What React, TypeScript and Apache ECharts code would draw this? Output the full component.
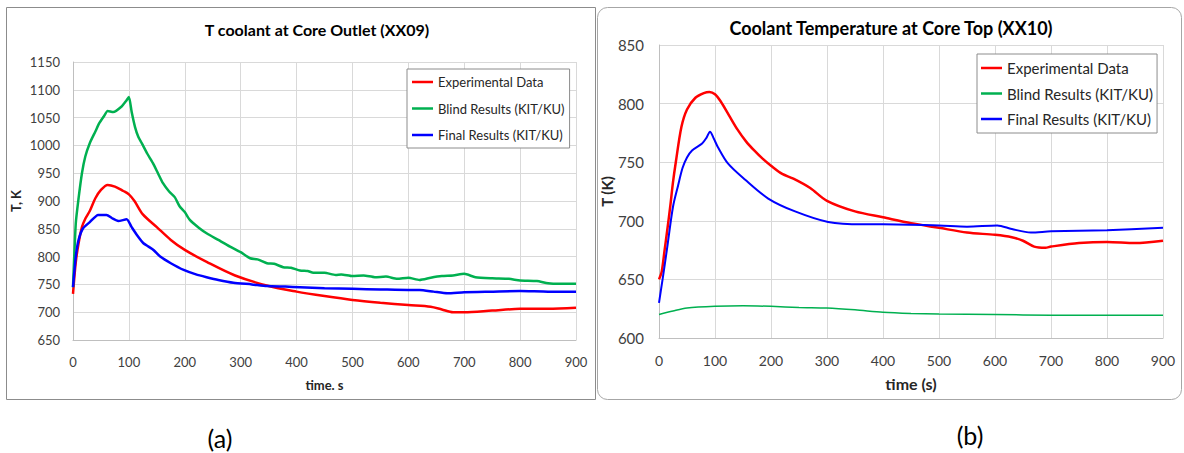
import React, { useEffect, useRef } from "react";
import * as echarts from "echarts";

// ---------- Panel (a): T coolant at Core Outlet (XX09) ----------
const expTimeA = [0, 5, 10, 16, 22, 30, 40, 50, 62, 75, 90, 100, 110, 125, 150, 175, 200, 240, 290, 350, 400, 450, 500, 550, 600, 640, 660, 680, 700, 750, 800, 850, 900];
const expTempA = [733, 790, 824, 853, 868, 882, 905, 920, 929, 926, 918, 912, 900, 876, 853, 830, 812, 790, 766, 747, 737, 729, 722, 717, 713, 710, 705, 700, 700, 703, 706, 706, 708];

const blindTimeA = [0, 5, 10, 16, 22, 30, 40, 47, 55, 62, 72, 87, 95, 100, 105, 111, 117, 123, 133, 143, 152, 161, 172, 182, 191, 200, 209, 225, 239, 260, 281, 300, 317, 330, 347, 360, 376, 390, 406, 420, 430, 450, 470, 480, 500, 520, 540, 560, 580, 600, 620, 640, 660, 680, 700, 720, 750, 780, 800, 830, 850, 870, 900];
const blindTempA = [745, 860, 905, 950, 980, 1004, 1025, 1040, 1052, 1062, 1060, 1070, 1080, 1087, 1060, 1033, 1015, 1004, 985, 968, 950, 932, 917, 907, 890, 880, 866, 852, 842, 830, 818, 808, 797, 795, 788, 787, 781, 780, 775, 774, 771, 771, 767, 768, 765, 766, 763, 764, 760, 762, 758, 762, 765, 766, 769, 763, 761, 760, 757, 756, 752, 751, 751];

const finalTimeA = [0, 5, 10, 18, 30, 45, 60, 70, 81, 96, 105, 115, 126, 135, 144, 156, 175, 198, 220, 239, 260, 287, 320, 347, 380, 406, 450, 500, 550, 600, 620, 645, 670, 700, 750, 800, 850, 900];
const finalTempA = [745, 800, 830, 851, 862, 875, 875, 869, 864, 867, 853, 838, 824, 818, 812, 800, 788, 776, 768, 763, 758, 753, 750, 747, 746, 745, 743, 742, 741, 740, 740, 737, 734, 736, 737, 738, 737, 737];

// ---------- Panel (b): Coolant Temperature at Core Top (XX10) ----------
const expTimeB = [0, 5, 10, 15, 20, 25, 30, 40, 50, 65, 80, 90, 100, 110, 125, 140, 155, 170, 185, 200, 220, 240, 270, 300, 350, 400, 450, 500, 550, 600, 630, 650, 670, 690, 700, 750, 800, 850, 900];
const expTempB = [650, 657, 675, 693, 712, 733, 750, 780, 795, 805, 809, 810, 808, 802, 790, 778, 768, 760, 753, 747, 740, 736, 728, 717, 708, 703, 698, 694, 690, 688, 686, 683, 678, 677, 678, 681, 682, 681, 683];

const blindTimeB = [0, 25, 50, 100, 150, 200, 250, 300, 350, 400, 450, 500, 600, 700, 800, 900];
const blindTempB = [620, 623, 625.5, 627, 627.5, 627, 626, 625.5, 624, 622, 621, 620.5, 620, 619.5, 619.5, 619.5];

const finalTimeB = [0, 7, 14, 25, 34, 42, 50, 59, 77, 85, 91, 98, 105, 123, 154, 195, 243, 302, 363, 400, 500, 550, 604, 630, 664, 700, 800, 900];
const finalTempB = [630, 652, 675, 712, 730, 745, 754, 760, 766, 771, 776, 770, 763, 749, 735, 719, 708, 699, 697, 697, 696, 695, 696, 693, 690, 691, 692, 694];

const seriesNames = ["Experimental Data", "Blind Results (KIT/KU)", "Final Results (KIT/KU)"];
const seriesColors = ["#ff0000", "#00b050", "#0000ff"];

const titleA = "T coolant at Core Outlet (XX09)";
const titleB = "Coolant Temperature at Core Top (XX10)";
const captionA = "(a)";
const captionB = "(b)";

const zip = (t: number[], v: number[]) => t.map((x, i) => [x, v[i]]);

const FONT = "Lato, 'Open Sans', sans-serif";
const plain = (v: number) => String(v);

export default function App() {
  const ref = useRef<HTMLDivElement>(null);

  useEffect(() => {
    if (!ref.current) return;
    const chart = echarts.init(ref.current, undefined, { renderer: "svg" });

    const xAxisBase = (gridIndex: number, fontSize: number, nameSize: number, name: string, nameGap: number) => ({
      type: "value" as const,
      gridIndex,
      min: 0,
      max: 900,
      interval: 100,
      name,
      nameLocation: "middle" as const,
      nameGap,
      nameTextStyle: { fontFamily: FONT, fontWeight: "bold" as const, fontSize: nameSize, color: "#262626" },
      axisLine: { show: true, lineStyle: { color: "#bfbfbf", width: 1 } },
      axisTick: { show: false },
      axisLabel: { fontFamily: FONT, fontSize, color: "#404040", margin: 15, formatter: plain },
      splitLine: { show: true, lineStyle: { color: "#d9d9d9", width: 1 } },
    });

    const option: any = {
      animation: false,
      backgroundColor: "#ffffff",
      grid: [
        { left: 73, top: 62, width: 503, height: 278 },
        { left: 659, top: 45, width: 504, height: 293 },
      ],
      xAxis: [
        xAxisBase(0, 13, 13, "time. s", 38),
        xAxisBase(1, 14, 16, "time (s)", 37),
      ],
      yAxis: [
        {
          type: "value",
          gridIndex: 0,
          min: 650,
          max: 1150,
          interval: 50,
          name: "T, K",
          nameLocation: "middle",
          nameGap: 51,
          nameTextStyle: { fontFamily: FONT, fontWeight: "bold", fontSize: 13, color: "#262626" },
          axisLine: { show: true, lineStyle: { color: "#bfbfbf", width: 1 } },
          axisTick: { show: false },
          axisLabel: { fontFamily: FONT, fontSize: 13, color: "#404040", margin: 13, formatter: plain },
          splitLine: { show: true, lineStyle: { color: "#d9d9d9", width: 1 } },
        },
        {
          type: "value",
          gridIndex: 1,
          min: 600,
          max: 850,
          interval: 50,
          name: "T (K)",
          nameLocation: "middle",
          nameGap: 43,
          nameTextStyle: { fontFamily: FONT, fontWeight: "bold", fontSize: 15, color: "#262626" },
          axisLine: { show: true, lineStyle: { color: "#bfbfbf", width: 1 } },
          axisTick: { show: false },
          axisLabel: { fontFamily: FONT, fontSize: 15, color: "#404040", margin: 15, formatter: plain },
          splitLine: { show: true, lineStyle: { color: "#d9d9d9", width: 1 } },
        },
      ],
      legend: [
        {
          orient: "vertical",
          left: 407,
          top: 69,
          data: seriesNames,
          icon: "rect",
          itemWidth: 21,
          itemHeight: 2.5,
          itemGap: 13.5,
          padding: [6.5, 5, 6.5, 5],
          backgroundColor: "#ffffff",
          borderColor: "#8c8c8c",
          borderWidth: 1,
          selectedMode: false,
          textStyle: { fontFamily: FONT, fontSize: 13, color: "#262626" },
        },
        {
          orient: "vertical",
          left: 977,
          top: 54,
          data: seriesNames,
          icon: "rect",
          itemWidth: 21,
          itemHeight: 2.5,
          itemGap: 10.5,
          padding: [6.5, 4, 6.5, 4],
          backgroundColor: "#ffffff",
          borderColor: "#8c8c8c",
          borderWidth: 1,
          selectedMode: false,
          textStyle: { fontFamily: FONT, fontSize: 15, color: "#262626" },
        },
      ],
      graphic: [
        {
          type: "rect",
          shape: { x: 6.5, y: 7.5, width: 589, height: 392 },
          style: { fill: "none", stroke: "#8c8c8c", lineWidth: 1 },
          silent: true,
        },
        {
          type: "rect",
          shape: { x: 597.5, y: 7.5, width: 584, height: 392, r: 10 },
          style: { fill: "none", stroke: "#a6a6a6", lineWidth: 1 },
          silent: true,
        },
        {
          type: "text",
          x: 317,
          y: 29,
          style: { text: titleA, font: `bold 16px ${FONT}`, fill: "#000000", textAlign: "center", textVerticalAlign: "middle", align: "center", verticalAlign: "middle" },
        },
        {
          type: "text",
          x: 891,
          y: 28,
          style: { text: titleB, font: `bold 18px ${FONT}`, fill: "#000000", textAlign: "center", textVerticalAlign: "middle", align: "center", verticalAlign: "middle" },
        },
        {
          type: "text",
          x: 220,
          y: 438,
          style: { text: captionA, font: `25px ${FONT}`, fill: "#000000", textAlign: "center", textVerticalAlign: "middle", align: "center", verticalAlign: "middle" },
        },
        {
          type: "text",
          x: 970,
          y: 435,
          style: { text: captionB, font: `25px ${FONT}`, fill: "#000000", textAlign: "center", textVerticalAlign: "middle", align: "center", verticalAlign: "middle" },
        },
      ],
      series: [
        { name: seriesNames[0], type: "line", xAxisIndex: 0, yAxisIndex: 0, data: zip(expTimeA, expTempA), color: seriesColors[0], showSymbol: false, smooth: 0.3, lineStyle: { width: 2.5 } },
        { name: seriesNames[1], type: "line", xAxisIndex: 0, yAxisIndex: 0, data: zip(blindTimeA, blindTempA), color: seriesColors[1], showSymbol: false, smooth: 0.2, lineStyle: { width: 2.5 } },
        { name: seriesNames[2], type: "line", xAxisIndex: 0, yAxisIndex: 0, data: zip(finalTimeA, finalTempA), color: seriesColors[2], showSymbol: false, smooth: 0.2, lineStyle: { width: 2.5 } },
        { name: seriesNames[0], type: "line", xAxisIndex: 1, yAxisIndex: 1, data: zip(expTimeB, expTempB), color: seriesColors[0], showSymbol: false, smooth: 0.3, lineStyle: { width: 2.5 } },
        { name: seriesNames[1], type: "line", xAxisIndex: 1, yAxisIndex: 1, data: zip(blindTimeB, blindTempB), color: seriesColors[1], showSymbol: false, smooth: 0.3, lineStyle: { width: 1.5 } },
        { name: seriesNames[2], type: "line", xAxisIndex: 1, yAxisIndex: 1, data: zip(finalTimeB, finalTempB), color: seriesColors[2], showSymbol: false, smooth: 0.3, lineStyle: { width: 2 } },
      ],
    };

    chart.setOption(option);
    return () => chart.dispose();
  }, []);

  return (
    <div
      ref={ref}
      style={{ position: "absolute", left: 0, top: 0, width: 1184, height: 453, background: "#fff" }}
    />
  );
}
